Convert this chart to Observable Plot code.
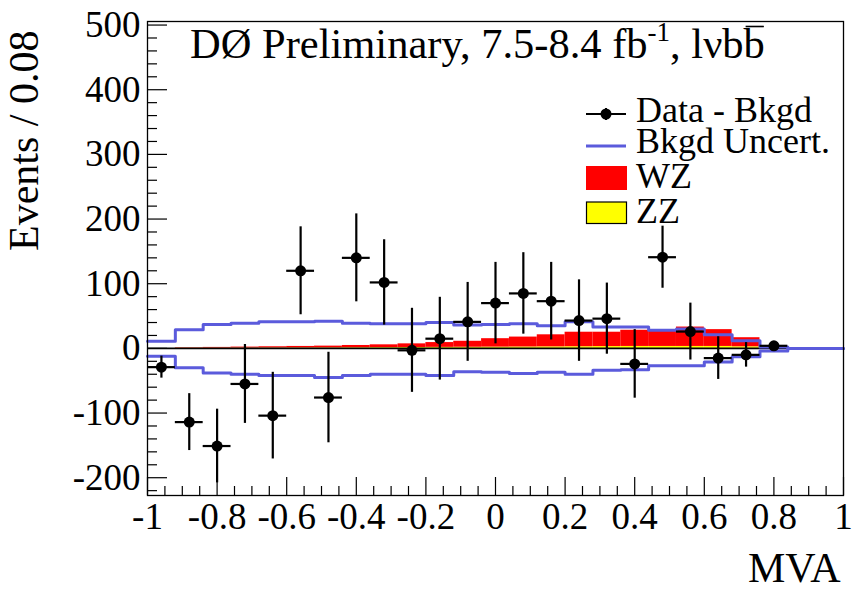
<!DOCTYPE html>
<html>
<head>
<meta charset="utf-8">
<script src="https://cdn.jsdelivr.net/npm/d3@7"></script>
<script src="https://cdn.jsdelivr.net/npm/@observablehq/plot@0.6"></script>
<style>
  html, body { margin: 0; padding: 0; background: #fff; overflow: hidden; }
  #chart { position: relative; width: 853px; height: 589px; }
</style>
</head>
<body>
<div id="chart"></div>
<script>
// ---------- data ----------
const binLow = [-1, -0.92, -0.84, -0.76, -0.68, -0.60, -0.52, -0.44, -0.36, -0.28, -0.20, -0.12, -0.04,
                0.04, 0.12, 0.20, 0.28, 0.36, 0.44, 0.52, 0.60, 0.68, 0.76, 0.84, 0.92];
const binWidth = 0.08;

const dataX   = [-0.96, -0.88, -0.80, -0.72, -0.64, -0.56, -0.48, -0.40, -0.32, -0.24, -0.16, -0.08, 0,
                 0.08, 0.16, 0.24, 0.32, 0.40, 0.48, 0.56, 0.64, 0.72, 0.80];
const dataY   = [-29, -114, -151, -55, -104, 120, -76, 140, 102, -3, 15, 41, 70,
                 85, 73, 43, 46, -24, 141, 26, -15, -10, 4];
const dataErr = [17, 44, 57, 61, 67, 68, 70, 68, 66, 65, 64, 61, 63,
                 63, 60, 63, 55, 53, 48, 44, 33, 19, 5];

const bandUp   = [11, 29, 37, 39, 41, 41, 42, 39, 38, 38, 40, 36, 37, 38, 35, 41, 33, 33, 28, 30, 21, 12, 2, 0, 0];
const bandDown = [-12, -30, -38, -40, -42, -42, -45, -42, -40, -40, -42, -36, -37, -39, -37, -40, -34, -33, -27, -27, -21, -13, -4, 0, 0];

const zzVals = [0, 0.3, 0.4, 0.5, 0.6, 0.7, 0.8, 1, 1.2, 1.4, 1.6, 1.8, 2, 2.2, 2.4, 2.6, 2.8, 3, 3, 3, 3, 2.5, 0, 0, 0];
const wzVals = [0, 0.7, 1.1, 1.5, 1.9, 2.3, 2.7, 3.5, 4.3, 5.6, 7.4, 9.2, 13, 15.3, 18.6, 22.4, 22.2, 25, 26, 30, 26, 14, 0, 0, 0];

const xTicks = [-1, -0.8, -0.6, -0.4, -0.2, 0, 0.2, 0.4, 0.6, 0.8, 1];
const yTicks = [-200, -100, 0, 100, 200, 300, 400, 500];

const titleMain = "DØ Preliminary, 7.5-8.4 fb";
const titleSup = "-1";
const titleTail = ", lνbb";   // last b carries an overline (b-bar)
const legendLabels = ["Data - Bkgd", "Bkgd Uncert.", "WZ", "ZZ"];
const xLabel = "MVA";
const yLabel = "Events / 0.08";

// ---------- layout ----------
const W = 853, H = 589;
const mL = 147, mR = 10, mT = 21, mB = 94;
const frameW = W - mL - mR, frameH = H - mT - mB;
const FONT = "Liberation Serif, Times New Roman, serif";
const BLUE = "#5b5bdc";

// derived tables
const bins = binLow.map((x1, i) => ({x1, x2: x1 + binWidth, zz: zzVals[i], wz: wzVals[i]}));
const bandUpPts = binLow.map((x, i) => ({x, y: bandUp[i]})).concat([{x: 1, y: bandUp[bandUp.length - 1]}]);
const bandDownPts = binLow.map((x, i) => ({x, y: bandDown[i]})).concat([{x: 1, y: bandDown[bandDown.length - 1]}]);
const points = dataX.map((x, i) => ({x, y: dataY[i], e: dataErr[i]}));

const xMinor = d3.range(-1, 1.0001, 0.05).map(v => +v.toFixed(2)).filter(v => !xTicks.some(t => Math.abs(t - v) < 1e-6));
const yMinor = d3.range(-220, 501, 20).filter(v => v % 100 !== 0);

const chart = Plot.plot({
  width: W, height: H,
  marginLeft: mL, marginRight: mR, marginTop: mT, marginBottom: mB,
  x: {domain: [-1, 1], label: null},
  y: {domain: [-227.5, 505.5], label: null},
  style: {fontFamily: FONT, background: "white", color: "black"},
  marks: [
    // stacked signal
    Plot.rect(bins, {x1: "x1", x2: "x2", y1: 0, y2: "zz", fill: "#ffff00"}),
    Plot.rect(bins, {x1: "x1", x2: "x2", y1: d => d.zz, y2: d => d.zz + d.wz, fill: "#ff0000"}),
    Plot.ruleY([0], {stroke: "black", strokeWidth: 1.6}),
    // background uncertainty band
    Plot.line(bandUpPts, {x: "x", y: "y", curve: "step-after", stroke: BLUE, strokeWidth: 3}),
    Plot.line(bandDownPts, {x: "x", y: "y", curve: "step-after", stroke: BLUE, strokeWidth: 3}),
    // data - bkgd
    Plot.ruleX(points, {x: "x", y1: d => d.y - d.e, y2: d => d.y + d.e, stroke: "black", strokeWidth: 2.2}),
    Plot.ruleY(points, {y: "y", x1: d => d.x - binWidth / 2, x2: d => d.x + binWidth / 2, stroke: "black", strokeWidth: 2.2}),
    Plot.dot(points, {x: "x", y: "y", r: 5.5, fill: "black", stroke: "none"}),
    // inward ticks
    Plot.ruleY(yTicks, {y: d => d, insetRight: frameW - 20, stroke: "black", strokeWidth: 1.2}),
    Plot.ruleY(yMinor, {y: d => d, insetRight: frameW - 10, stroke: "black", strokeWidth: 1.2}),
    Plot.ruleX(xTicks, {x: d => d, insetTop: frameH - 18, stroke: "black", strokeWidth: 1.2}),
    Plot.ruleX(xMinor, {x: d => d, insetTop: frameH - 9, stroke: "black", strokeWidth: 1.2}),
    // tick labels
    Plot.axisX({ticks: xTicks, tickSize: 0, tickPadding: 7, fontSize: 37, tickFormat: d => String(d), label: null}),
    Plot.axisY({ticks: yTicks, tickSize: 0, tickPadding: 7, fontSize: 37, tickFormat: d => String(d), label: null}),
    // axis titles
    Plot.text([xLabel], {text: d => d, frameAnchor: "bottom-right", textAnchor: "end", lineAnchor: "bottom", dx: -3, dy: 86, fontSize: 42}),
    Plot.text([yLabel], {text: d => d, frameAnchor: "top-left", textAnchor: "end", lineAnchor: "bottom", rotate: -90, dx: -110, dy: 9, fontSize: 42}),
    Plot.frame({stroke: "black", strokeWidth: 1.3})
  ]
});

document.getElementById("chart").appendChild(chart);

// ---------- title and legend (annotations) ----------
const svg = d3.select(chart);
const t = svg.append("text")
  .attr("x", 190).attr("y", 58).attr("text-anchor", "start")
  .attr("font-family", FONT).attr("font-size", 42.5).attr("fill", "black");
t.append("tspan").text(titleMain);
t.append("tspan").attr("font-size", 27).attr("dy", -17).text(titleSup);
t.append("tspan").attr("dy", 17).text(titleTail);
// overline over the final "b"
const tn = t.node();
const nChars = tn.getNumberOfChars();
const ext = tn.getExtentOfChar(nChars - 1);
svg.append("line")
  .attr("x1", ext.x + 2).attr("x2", ext.x + ext.width - 1)
  .attr("y1", 26.5).attr("y2", 26.5)
  .attr("stroke", "black").attr("stroke-width", 1.6);

const lg = svg.append("g").attr("font-family", FONT).attr("font-size", 36).attr("fill", "black").attr("text-anchor", "start");
const baselines = [121.5, 152.6, 188, 223];
legendLabels.forEach((s, i) => {
  lg.append("text").attr("x", 636).attr("y", baselines[i]).attr("text-anchor", "start").text(s);
});
// data marker
lg.append("line").attr("x1", 586).attr("x2", 626).attr("y1", 114).attr("y2", 114).attr("stroke", "black").attr("stroke-width", 2);
lg.append("line").attr("x1", 606).attr("x2", 606).attr("y1", 108).attr("y2", 120).attr("stroke", "black").attr("stroke-width", 2);
lg.append("circle").attr("cx", 606).attr("cy", 114).attr("r", 5.5).attr("fill", "black");
// band
lg.append("line").attr("x1", 586).attr("x2", 626).attr("y1", 146).attr("y2", 146).attr("stroke", BLUE).attr("stroke-width", 3);
// WZ
lg.append("rect").attr("x", 586).attr("y", 166).attr("width", 41).attr("height", 24).attr("fill", "#ff0000");
// ZZ
lg.append("rect").attr("x", 586.5).attr("y", 202).attr("width", 40).attr("height", 21.5).attr("fill", "#ffff00").attr("stroke", "black").attr("stroke-width", 1.2);
</script>
</body>
</html>
